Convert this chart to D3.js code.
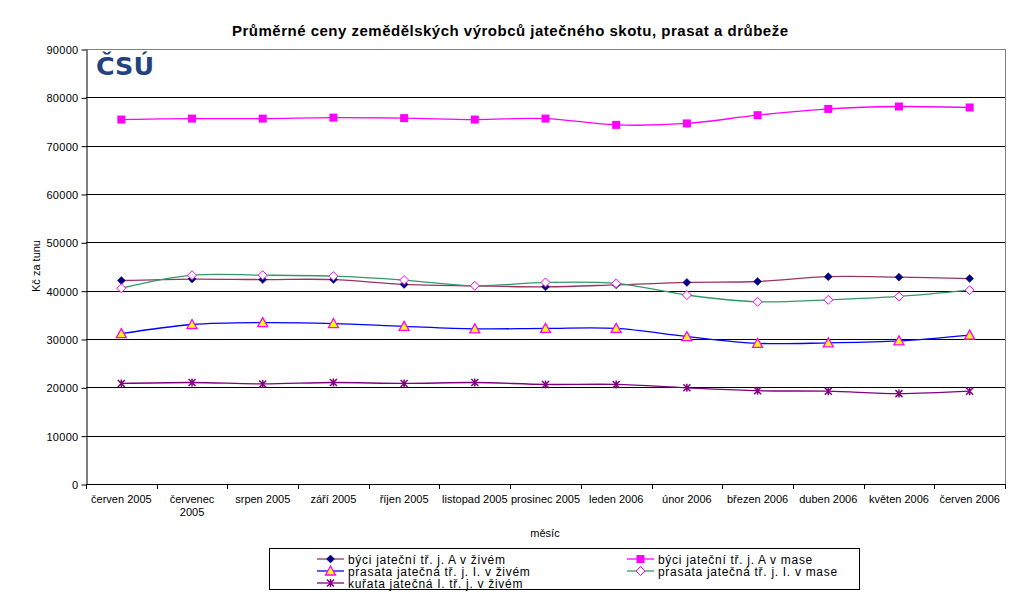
<!DOCTYPE html>
<html>
<head>
<meta charset="utf-8">
<title>Průměrné ceny zemědělských výrobců</title>
<script src="https://cdn.jsdelivr.net/npm/d3@7"></script>
<style>
  body { margin: 0; background: #fff; }
  svg text { font-family: Arial, "Liberation Sans", sans-serif; fill: #000; }
</style>
</head>
<body>
<svg id="chart" width="1020" height="597"></svg>
<script>
// months on the x axis
var months = ['červen 2005', 'červenec 2005', 'srpen 2005', 'září 2005', 'říjen 2005',
  'listopad 2005', 'prosinec 2005', 'leden 2006', 'únor 2006', 'březen 2006',
  'duben 2006', 'květen 2006', 'červen 2006'];

// series values, Kč per tonne
var byciZive = [42100, 42400, 42300, 42300, 41300, 41000, 40800, 41200, 41700, 41900, 42900, 42800, 42500];
var byciMaso = [75400, 75600, 75600, 75800, 75700, 75400, 75600, 74300, 74600, 76300, 77600, 78100, 77900];
var prasataZive = [31100, 33000, 33400, 33200, 32600, 32100, 32200, 32200, 30500, 29100, 29200, 29600, 30800];
var prasataMaso = [40500, 43200, 43200, 43000, 42200, 41000, 41700, 41500, 39100, 37700, 38100, 38800, 40100];
var kurataZive = [20800, 21000, 20700, 21000, 20800, 21000, 20600, 20600, 19900, 19300, 19200, 18700, 19200];

var yTicks = [0, 10000, 20000, 30000, 40000, 50000, 60000, 70000, 80000, 90000];

var series = [
  { name: 'býci jateční tř. j. A v živém', values: byciZive, line: '#993366', marker: 'diamond' },
  { name: 'býci jateční tř. j. A v mase', values: byciMaso, line: '#ff00ff', marker: 'square' },
  { name: 'prasata jatečná tř. j. I. v živém', values: prasataZive, line: '#0000ff', marker: 'triangle' },
  { name: 'prasata jatečná tř. j. I. v mase', values: prasataMaso, line: '#339966', marker: 'opendiamond' },
  { name: 'kuřata jatečná I. tř. j. v živém', values: kurataZive, line: '#800080', marker: 'star' }
];

var svg = d3.select('#chart');
var plot = { left: 86, right: 1005, top: 49, bottom: 484 };

var x = d3.scaleBand().domain(months).range([plot.left, plot.right]);
var y = d3.scaleLinear().domain([0, 90000]).range([plot.bottom, plot.top]);

// title
svg.append('text')
  .attr('x', 510).attr('y', 36)
  .attr('text-anchor', 'middle')
  .attr('textLength', 556).attr('lengthAdjust', 'spacing')
  .style('font-size', '15px').style('font-weight', 'bold')
  .text('Průměrné ceny zemědělských výrobců jatečného skotu, prasat a drůbeže');

// gridlines
svg.append('g').selectAll('line')
  .data(yTicks.filter(d => d > 0))
  .join('line')
  .attr('x1', plot.left).attr('x2', plot.right)
  .attr('y1', d => Math.round(y(d)) + 0.5).attr('y2', d => Math.round(y(d)) + 0.5)
  .attr('stroke', d => d === 90000 ? '#808080' : '#000')
  .attr('stroke-width', 1);

// right border of plot area
svg.append('line')
  .attr('x1', plot.right + 0.5).attr('x2', plot.right + 0.5)
  .attr('y1', plot.top).attr('y2', plot.bottom)
  .attr('stroke', '#808080');

// y axis
var yAxis = svg.append('g')
  .attr('transform', 'translate(' + (plot.left + 0.5) + ',0.5)')
  .call(d3.axisLeft(y).tickValues(yTicks).tickSize(5).tickSizeOuter(0).tickPadding(3)
    .tickFormat(d3.format('d')));
yAxis.select('.domain').attr('stroke', '#000');
yAxis.selectAll('line').attr('stroke', '#000');
yAxis.selectAll('text').style('font-size', '11px').style('letter-spacing', '0.3px').attr('dy', '0.35em');

// x axis with ticks between categories
var xAxisG = svg.append('g');
xAxisG.append('line')
  .attr('x1', plot.left).attr('x2', plot.right + 1)
  .attr('y1', plot.bottom + 0.5).attr('y2', plot.bottom + 0.5)
  .attr('stroke', '#000');
var boundaries = months.map(m => x(m)).concat([plot.right]);
xAxisG.selectAll('.tick')
  .data(boundaries)
  .join('line')
  .attr('x1', d => Math.round(d) + 0.5).attr('x2', d => Math.round(d) + 0.5)
  .attr('y1', plot.bottom).attr('y2', plot.bottom + 5)
  .attr('stroke', '#000');

var labels = xAxisG.selectAll('text.xl')
  .data(months)
  .join('text')
  .attr('class', 'xl')
  .attr('text-anchor', 'middle')
  .style('font-size', '11px')
  .attr('transform', d => 'translate(' + (x(d) + x.bandwidth() / 2) + ',503)');
labels.each(function (d) {
  var t = d3.select(this);
  if (d === 'červenec 2005') {
    t.append('tspan').attr('x', 0).attr('dy', 0).text('červenec');
    t.append('tspan').attr('x', 0).attr('dy', 13).text('2005');
  } else {
    t.text(d);
  }
});

// axis titles
svg.append('text')
  .attr('x', 545).attr('y', 537)
  .attr('text-anchor', 'middle')
  .style('font-size', '11px')
  .text('měsíc');
svg.append('text')
  .attr('transform', 'translate(40,266) rotate(-90)')
  .attr('text-anchor', 'middle')
  .style('font-size', '11px')
  .text('Kč za tunu');

// logo
svg.append('text')
  .attr('x', 96).attr('y', 75)
  .attr('textLength', 58).attr('lengthAdjust', 'spacingAndGlyphs')
  .style('font-family', '"DejaVu Sans", sans-serif')
  .style('font-size', '25px').style('font-weight', 'bold')
  .style('fill', '#23427f')
  .text('ČSÚ');

// markers
function drawMarker(g, type, cx, cy) {
  if (type === 'diamond') {
    g.append('path').attr('d', 'M' + cx + ',' + (cy - 4) + 'L' + (cx + 4) + ',' + cy + 'L' + cx + ',' + (cy + 4) + 'L' + (cx - 4) + ',' + cy + 'Z')
      .attr('fill', '#000080').attr('stroke', '#000080').attr('stroke-width', 0.5);
  } else if (type === 'square') {
    g.append('rect').attr('x', cx - 4).attr('y', cy - 4).attr('width', 8).attr('height', 8)
      .attr('fill', '#ff00ff');
  } else if (type === 'triangle') {
    g.append('path').attr('d', 'M' + cx + ',' + (cy - 5) + 'L' + (cx + 5) + ',' + (cy + 4) + 'L' + (cx - 5) + ',' + (cy + 4) + 'Z')
      .attr('fill', '#ffff00').attr('stroke', '#ff00ff').attr('stroke-width', 1.3);
  } else if (type === 'opendiamond') {
    g.append('path').attr('d', 'M' + cx + ',' + (cy - 4.5) + 'L' + (cx + 4.5) + ',' + cy + 'L' + cx + ',' + (cy + 4.5) + 'L' + (cx - 4.5) + ',' + cy + 'Z')
      .attr('fill', '#fff').attr('stroke', '#ff00ff').attr('stroke-width', 1);
  } else if (type === 'star') {
    g.append('path').attr('d',
      'M' + (cx - 3.5) + ',' + (cy - 3.5) + 'L' + (cx + 3.5) + ',' + (cy + 3.5) +
      'M' + (cx + 3.5) + ',' + (cy - 3.5) + 'L' + (cx - 3.5) + ',' + (cy + 3.5) +
      'M' + cx + ',' + (cy - 4) + 'L' + cx + ',' + (cy + 4))
      .attr('fill', 'none').attr('stroke', '#800080').attr('stroke-width', 1.5);
  }
}

// lines
var line = d3.line()
  .x((d, i) => x(months[i]) + x.bandwidth() / 2)
  .y(d => y(d))
  .curve(d3.curveCardinal.tension(0));

series.forEach(function (s) {
  svg.append('path')
    .datum(s.values)
    .attr('d', line)
    .attr('fill', 'none')
    .attr('stroke', s.line)
    .attr('stroke-width', 1.3);
});
series.forEach(function (s) {
  var g = svg.append('g');
  s.values.forEach(function (v, i) {
    drawMarker(g, s.marker, x(months[i]) + x.bandwidth() / 2, y(v));
  });
});

// legend
var legend = svg.append('g');
legend.append('rect')
  .attr('x', 269.5).attr('y', 548.5).attr('width', 590).attr('height', 41)
  .attr('fill', '#fff').attr('stroke', '#000').attr('stroke-width', 1);
var legPos = [
  { x: 317, y: 559 }, { x: 627, y: 559 },
  { x: 317, y: 571 }, { x: 627, y: 571 },
  { x: 317, y: 583 }
];
series.forEach(function (s, i) {
  var p = legPos[i];
  var g = legend.append('g');
  g.append('line').attr('x1', p.x).attr('x2', p.x + 27)
    .attr('y1', p.y).attr('y2', p.y)
    .attr('stroke', s.line).attr('stroke-width', 1.3);
  drawMarker(g, s.marker, p.x + 13.5, p.y);
  g.append('text').attr('x', p.x + 31).attr('y', p.y + 4.5)
    .style('font-size', '12px').style('letter-spacing', '0.7px')
    .text(s.name);
});
</script>
</body>
</html>
